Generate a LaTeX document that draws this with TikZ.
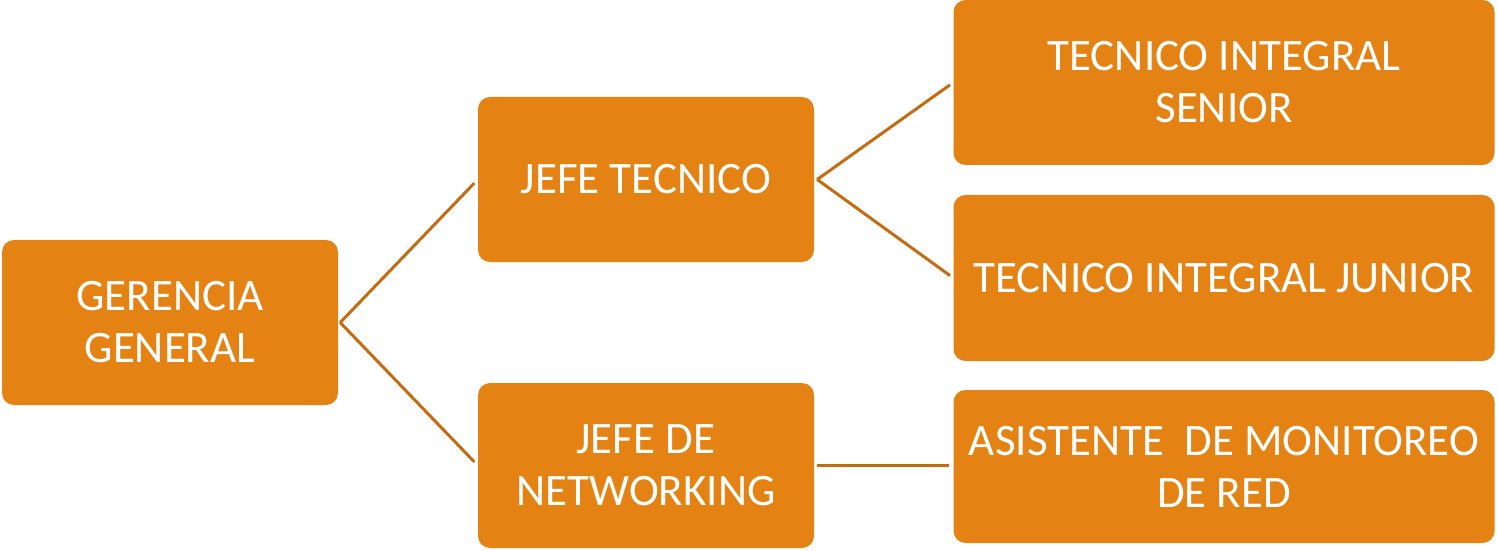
\documentclass[tikz,border=0pt]{standalone}
\usepackage{fontspec}
\setmainfont{Carlito}
\usetikzlibrary{calc}
\definecolor{boxfill}{RGB}{228,130,19}
\definecolor{linecol}{RGB}{196,108,18}
\begin{document}
\begin{tikzpicture}[x=1pt,y=1pt,
  box/.style={rectangle, rounded corners=12pt, fill=boxfill, draw=none, inner sep=0pt,
    text=white, align=center, font=\fontsize{45}{52}\selectfont},
  conn/.style={draw=linecol, line width=3pt}]
\useasboundingbox (0,0) rectangle (1497,550);
\node[box, minimum width=336pt, minimum height=165pt] (gg) at (170,227.5) {GERENCIA\\GENERAL};
\node[box, minimum width=336pt, minimum height=165pt] (jt) at (646,370.5) {JEFE TECNICO};
\node[box, minimum width=336pt, minimum height=165pt] (jn) at (646,84.5) {JEFE DE\\NETWORKING};
\node[box, minimum width=541pt, minimum height=165pt] (ts) at (1224,467.5) {TECNICO INTEGRAL\\SENIOR};
\node[box, minimum width=541pt, minimum height=166pt] (tj) at (1224,272) {TECNICO INTEGRAL JUNIOR};
\node[box, minimum width=541pt, minimum height=153pt] (am) at (1224,83.5) {ASISTENTE\ \ DE MONITOREO\\DE RED};
\draw[conn, shorten >=5pt] ($(gg.east)+(2,0)$) -- (jt.west);
\draw[conn, shorten >=5pt] ($(gg.east)+(2,0)$) -- (jn.west);
\draw[conn, shorten >=4pt] ($(jt.east)+(3,0)$) -- (ts.west);
\draw[conn, shorten >=4pt] ($(jt.east)+(3,0)$) -- (tj.west);
\draw[conn, shorten >=4pt] ($(jn.east)+(3,0)$) -- ($(am.west)+(0,1)$);
\end{tikzpicture}
\end{document}
